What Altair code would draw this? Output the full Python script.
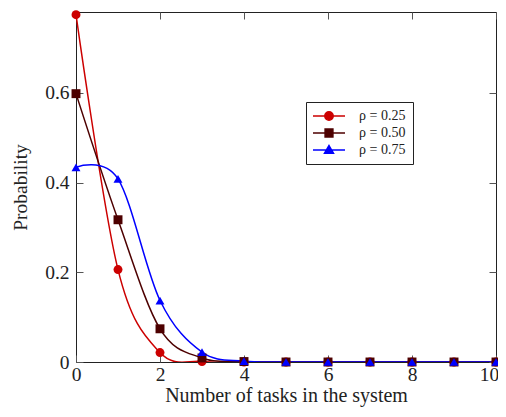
import altair as alt
import pandas as pd

n_tasks = list(range(11))
series_labels = ["ρ = 0.25", "ρ = 0.50", "ρ = 0.75"]
p_025 = [0.774, 0.206, 0.021, 0.001, 0, 0, 0, 0, 0, 0, 0]
p_050 = [0.598, 0.317, 0.074, 0.009, 0.001, 0, 0, 0, 0, 0, 0]
p_075 = [0.434, 0.408, 0.137, 0.022, 0.002, 0, 0, 0, 0, 0, 0]
x_ticks = [0, 2, 4, 6, 8, 10]
y_ticks = [0, 0.2, 0.4, 0.6]
colors = ["#cc0000", "#4d0000", "#0000ff"]
shapes = ["circle", "square", "triangle-up"]
# legend symbols: a short line with the marker in its middle
legend_paths = [
    "M-2.67,0H2.67M0.7,0A0.7,0.7,0,1,1,-0.7,0A0.7,0.7,0,1,1,0.7,0Z",
    "M-2.67,0H2.67M-0.65,-0.65H0.65V0.65H-0.65Z",
    "M-2.67,0H2.67M0,-0.75L0.75,0.55L-0.75,0.55Z",
]

rows = []
for lab, vals in zip(series_labels, [p_025, p_050, p_075]):
    for n, p in zip(n_tasks, vals):
        rows.append({"n": n, "series": lab, "p": p})
df = pd.DataFrame(rows)

W, H = 420, 350
FONT = "Liberation Serif"
TICKC = "#555555"
TXT = "#222222"

xscale = alt.Scale(domain=[0, 10], nice=False)
yscale = alt.Scale(domain=[0, 0.78], nice=False)


def tick_axis(orient, offset, values):
    return alt.Axis(orient=orient, offset=offset, values=values, labels=False,
                    domain=False, grid=False, ticks=True, tickSize=7,
                    tickColor=TICKC, title=None)


x_main = alt.Axis(
    orient="bottom", values=x_ticks, ticks=False, tickSize=0, domain=False, grid=False,
    format="d", labelFont=FONT, labelFontSize=19.5, labelColor=TXT, labelPadding=3,
    labelFlush=False,
    labelOffset=alt.condition("datum.value == 10", alt.value(-7), alt.value(0)),
    title="Number of tasks in the system", titleFont=FONT, titleFontSize=20,
    titleFontWeight="normal", titleColor=TXT, titlePadding=2)
y_main = alt.Axis(
    orient="left", values=y_ticks, ticks=False, tickSize=0, domain=False, grid=False,
    format="~g", labelFont=FONT, labelFontSize=19.5, labelColor=TXT, labelPadding=7,
    labelFlush=False,
    title="Probability", titleFont=FONT, titleFontSize=19.5,
    titleFontWeight="normal", titleColor=TXT, titlePadding=14)

line_layers = []
point_layers = []
for i, (lab, col, shp) in enumerate(zip(series_labels, colors, shapes)):
    line_layers.append(
        alt.Chart(df).transform_filter(alt.datum.series == lab).mark_line(
            interpolate="cardinal", strokeWidth=1.5, clip=True, color=col
        ).encode(
            x=alt.X("n:Q", scale=xscale, axis=x_main if i == 0 else None),
            y=alt.Y("p:Q", scale=yscale, axis=y_main if i == 0 else None),
        )
    )
    point_layers.append(
        alt.Chart(df).transform_filter(alt.datum.series == lab).mark_point(
            filled=True, opacity=1, size=80, shape=shp, color=col
        ).encode(
            x=alt.X("n:Q", scale=xscale,
                    axis=tick_axis("top", -H, x_ticks) if i == 0 else None),
            y=alt.Y("p:Q", scale=yscale,
                    axis=tick_axis("right", -W, y_ticks) if i == 0 else None),
        )
    )

legend_layer = alt.Chart(df).transform_filter("false").mark_point(
    filled=True, opacity=1
).encode(
    x=alt.X("n:Q", scale=xscale, axis=tick_axis("bottom", -H, x_ticks)),
    y=alt.Y("p:Q", scale=yscale, axis=tick_axis("left", -W, y_ticks)),
    fill=alt.Fill("series:N", scale=alt.Scale(domain=series_labels, range=colors)),
    stroke=alt.Stroke("series:N", scale=alt.Scale(domain=series_labels, range=colors)),
    shape=alt.Shape("series:N", scale=alt.Scale(domain=series_labels, range=legend_paths),
                    legend=alt.Legend(
                        title=None, orient="none", legendX=230, legendY=90,
                        strokeColor=TXT, fillColor="white", padding=7,
                        symbolSize=144, symbolStrokeWidth=1.5, symbolOffset=9,
                        symbolOpacity=1,
                        symbolFillColor="#888888", symbolStrokeColor="#888888",
                        labelFont=FONT, labelFontSize=14, labelColor=TXT,
                        labelOffset=23, rowPadding=2)),
)

chart = alt.layer(*line_layers, *point_layers, legend_layer).resolve_axis(
    x="independent", y="independent"
).properties(
    width=W, height=H,
    autosize=alt.AutoSizeParams(type="none"),
    padding={"left": 68, "top": 4, "right": 2, "bottom": 47},
).configure_view(stroke="#222", strokeWidth=1)

chart.save("out.html", embed_options={"renderer": "svg", "actions": False})
